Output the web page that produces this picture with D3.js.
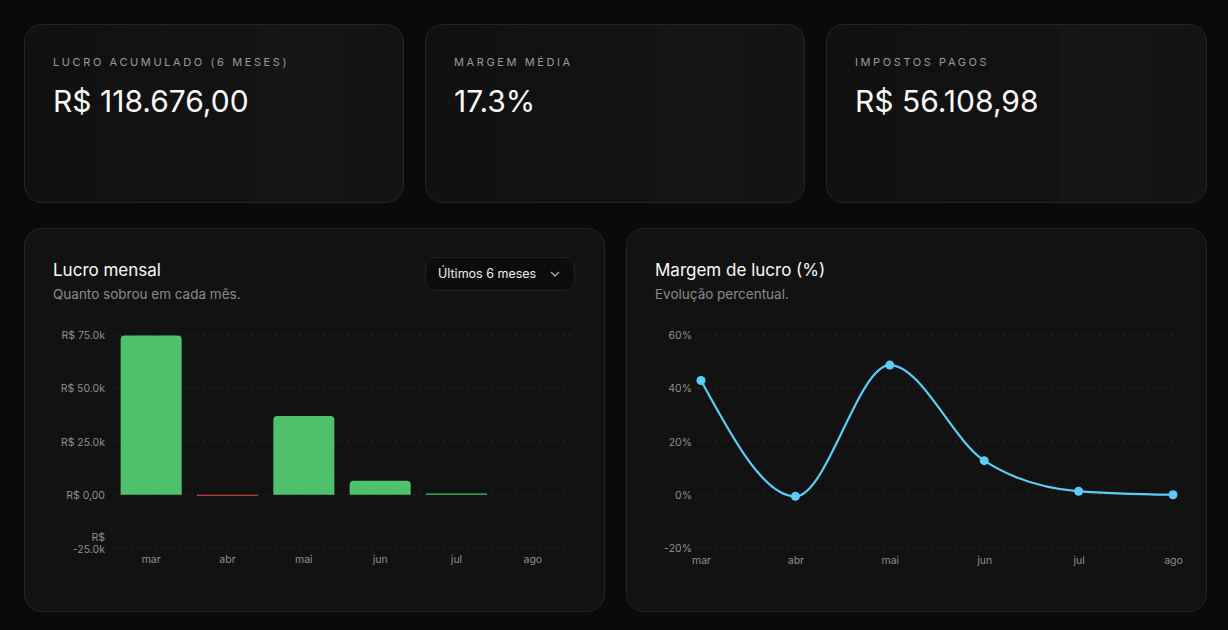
<!DOCTYPE html>
<html>
<head>
<meta charset="utf-8">
<script src="https://cdn.jsdelivr.net/npm/d3@7"></script>
<style>
  body { margin:0; background:#0a0a0a; font-family: Inter, "Noto Sans", sans-serif; width:1228px; height:630px; overflow:hidden; position:relative; }
  .card { position:absolute; box-sizing:border-box; border:1px solid #262626; border-radius:18px; background:#121212; overflow:hidden; }
  .kpi { background: linear-gradient(90deg, #111 0%, #121212 60%, #141618 62%, #131416 100%); }
  .label { position:absolute; left:28px; top:30px; font-size:11px; letter-spacing:2.6px; color:#9a9a9a; }
  .value { position:absolute; left:28px; top:58px; font-size:30px; color:#fafafa; }
  .title { position:absolute; left:28px; top:31px; font-size:17px; color:#fafafa; }
  .sub { position:absolute; left:28px; top:57px; font-size:13.5px; color:#8a8a8a; }
  .select { position:absolute; left:400px; top:28px; width:150px; height:34px; box-sizing:border-box; border:1px solid #222; border-radius:11px; background:#0c0c0c; color:#eee; font-size:12.5px; line-height:32px; padding-left:12px; }
  .select svg { position:absolute; right:14px; top:12px; }
  #charts { position:absolute; left:0; top:0; }
</style>
</head>
<body>
<div class="card kpi" style="left:24px;top:24px;width:380px;height:179px"><div class="label">LUCRO ACUMULADO (6 MESES)</div><div class="value">R$ 118.676,00</div></div>
<div class="card kpi" style="left:425px;top:24px;width:380px;height:179px"><div class="label">MARGEM MÉDIA</div><div class="value">17.3%</div></div>
<div class="card kpi" style="left:826px;top:24px;width:381px;height:179px"><div class="label">IMPOSTOS PAGOS</div><div class="value">R$ 56.108,98</div></div>
<div class="card" style="left:24px;top:228px;width:581px;height:384px">
  <div class="title">Lucro mensal</div><div class="sub">Quanto sobrou em cada mês.</div>
  <div class="select">Últimos 6 meses<svg width="10" height="8"><path d="M1 2 L5 6 L9 2" fill="none" stroke="#aaa" stroke-width="1.3"/></svg></div>
</div>
<div class="card" style="left:626px;top:228px;width:581px;height:384px">
  <div class="title">Margem de lucro (%)</div><div class="sub">Evolução percentual.</div>
</div>
<svg id="charts" width="1228" height="630"></svg>
<script>
var months = ["mar", "abr", "mai", "jun", "jul", "ago"];
var profit = [74800, -300, 37000, 6600, 600, 0];
var margin = [42.9, -0.6, 48.7, 12.8, 1.3, 0];
var profitTicks = [-25000, 0, 25000, 50000, 75000];
var marginTicks = [-20, 0, 20, 40, 60];

var svg = d3.select("#charts");
var tickColor = "#8f8f8f";

// bar chart
var xb = d3.scaleBand().domain(months).range([113, 571]).paddingInner(0.2).paddingOuter(0.1);
var yb = d3.scaleLinear().domain([-25000, 75000]).range([548, 335]);
var gb = svg.append("g");
gb.selectAll("line.grid").data(profitTicks).enter().append("line")
  .attr("x1", 113).attr("x2", 571).attr("y1", d => yb(d)).attr("y2", d => yb(d))
  .attr("stroke", "#2a2a2a").attr("stroke-dasharray", "2,4");
gb.selectAll("text.yt").data(profitTicks).enter().append("text")
  .attr("x", 105).attr("y", d => yb(d) + 4).attr("text-anchor", "end")
  .attr("font-size", 10.5).attr("fill", tickColor)
  .each(function(d) {
    var t = d3.select(this);
    if (d < 0) {
      t.append("tspan").attr("x", 105).attr("dy", -11).text("R$");
      t.append("tspan").attr("x", 105).attr("dy", 12).text("-25.0k");
    } else {
      t.text(d === 0 ? "R$ 0,00" : "R$ " + (d / 1000).toFixed(1) + "k");
    }
  });
gb.selectAll("path.bar").data(profit.map((v, i) => ({m: months[i], v: v}))).enter().append("path")
  .attr("fill", d => d.v < 0 ? "#e5484d" : "#4fc06b")
  .attr("d", function(d) {
    var x0 = xb(d.m), w = xb.bandwidth();
    var y0 = yb(0), y1 = yb(d.v);
    if (d.v < 0) return "M" + x0 + "," + y0 + "h" + w + "V" + Math.max(y1, y0 + 1) + "h" + (-w) + "Z";
    var h = y0 - y1, r = Math.min(4, h / 2);
    return "M" + x0 + "," + y0 + "V" + (y1 + r) + "Q" + x0 + "," + y1 + " " + (x0 + r) + "," + y1 +
      "H" + (x0 + w - r) + "Q" + (x0 + w) + "," + y1 + " " + (x0 + w) + "," + (y1 + r) + "V" + y0 + "Z";
  });
gb.append("g").attr("transform", "translate(0,550)")
  .call(d3.axisBottom(xb).tickSize(0).tickPadding(6))
  .call(g => g.select(".domain").remove())
  .selectAll("text").attr("fill", tickColor).attr("font-size", 10.5).attr("font-family", "Inter, sans-serif");

// line chart
var xl = d3.scalePoint().domain(months).range([701, 1173]);
var yl = d3.scaleLinear().domain([-20, 60]).range([548, 335]);
var gl = svg.append("g");
gl.selectAll("line.grid").data(marginTicks).enter().append("line")
  .attr("x1", 697).attr("x2", 1173).attr("y1", d => yl(d)).attr("y2", d => yl(d))
  .attr("stroke", "#2a2a2a").attr("stroke-dasharray", "2,4");
gl.selectAll("text.yt").data(marginTicks).enter().append("text")
  .attr("x", 692).attr("y", d => yl(d) + 4).attr("text-anchor", "end")
  .attr("font-size", 10.5).attr("fill", tickColor).text(d => d + "%");
var pts = margin.map((v, i) => ({m: months[i], v: v}));
gl.append("path").datum(pts).attr("fill", "none").attr("stroke", "#5ccdf7").attr("stroke-width", 2.2)
  .attr("d", d3.line().x(d => xl(d.m)).y(d => yl(d.v)).curve(d3.curveMonotoneX));
gl.selectAll("circle").data(pts).enter().append("circle")
  .attr("cx", d => xl(d.m)).attr("cy", d => yl(d.v)).attr("r", 4.5).attr("fill", "#5ccdf7");
gl.append("g").attr("transform", "translate(0,555)")
  .call(d3.axisBottom(xl).tickSize(0).tickPadding(2))
  .call(g => g.select(".domain").remove())
  .selectAll("text").attr("fill", tickColor).attr("font-size", 10.5).attr("font-family", "Inter, sans-serif");
</script>
</body>
</html>
